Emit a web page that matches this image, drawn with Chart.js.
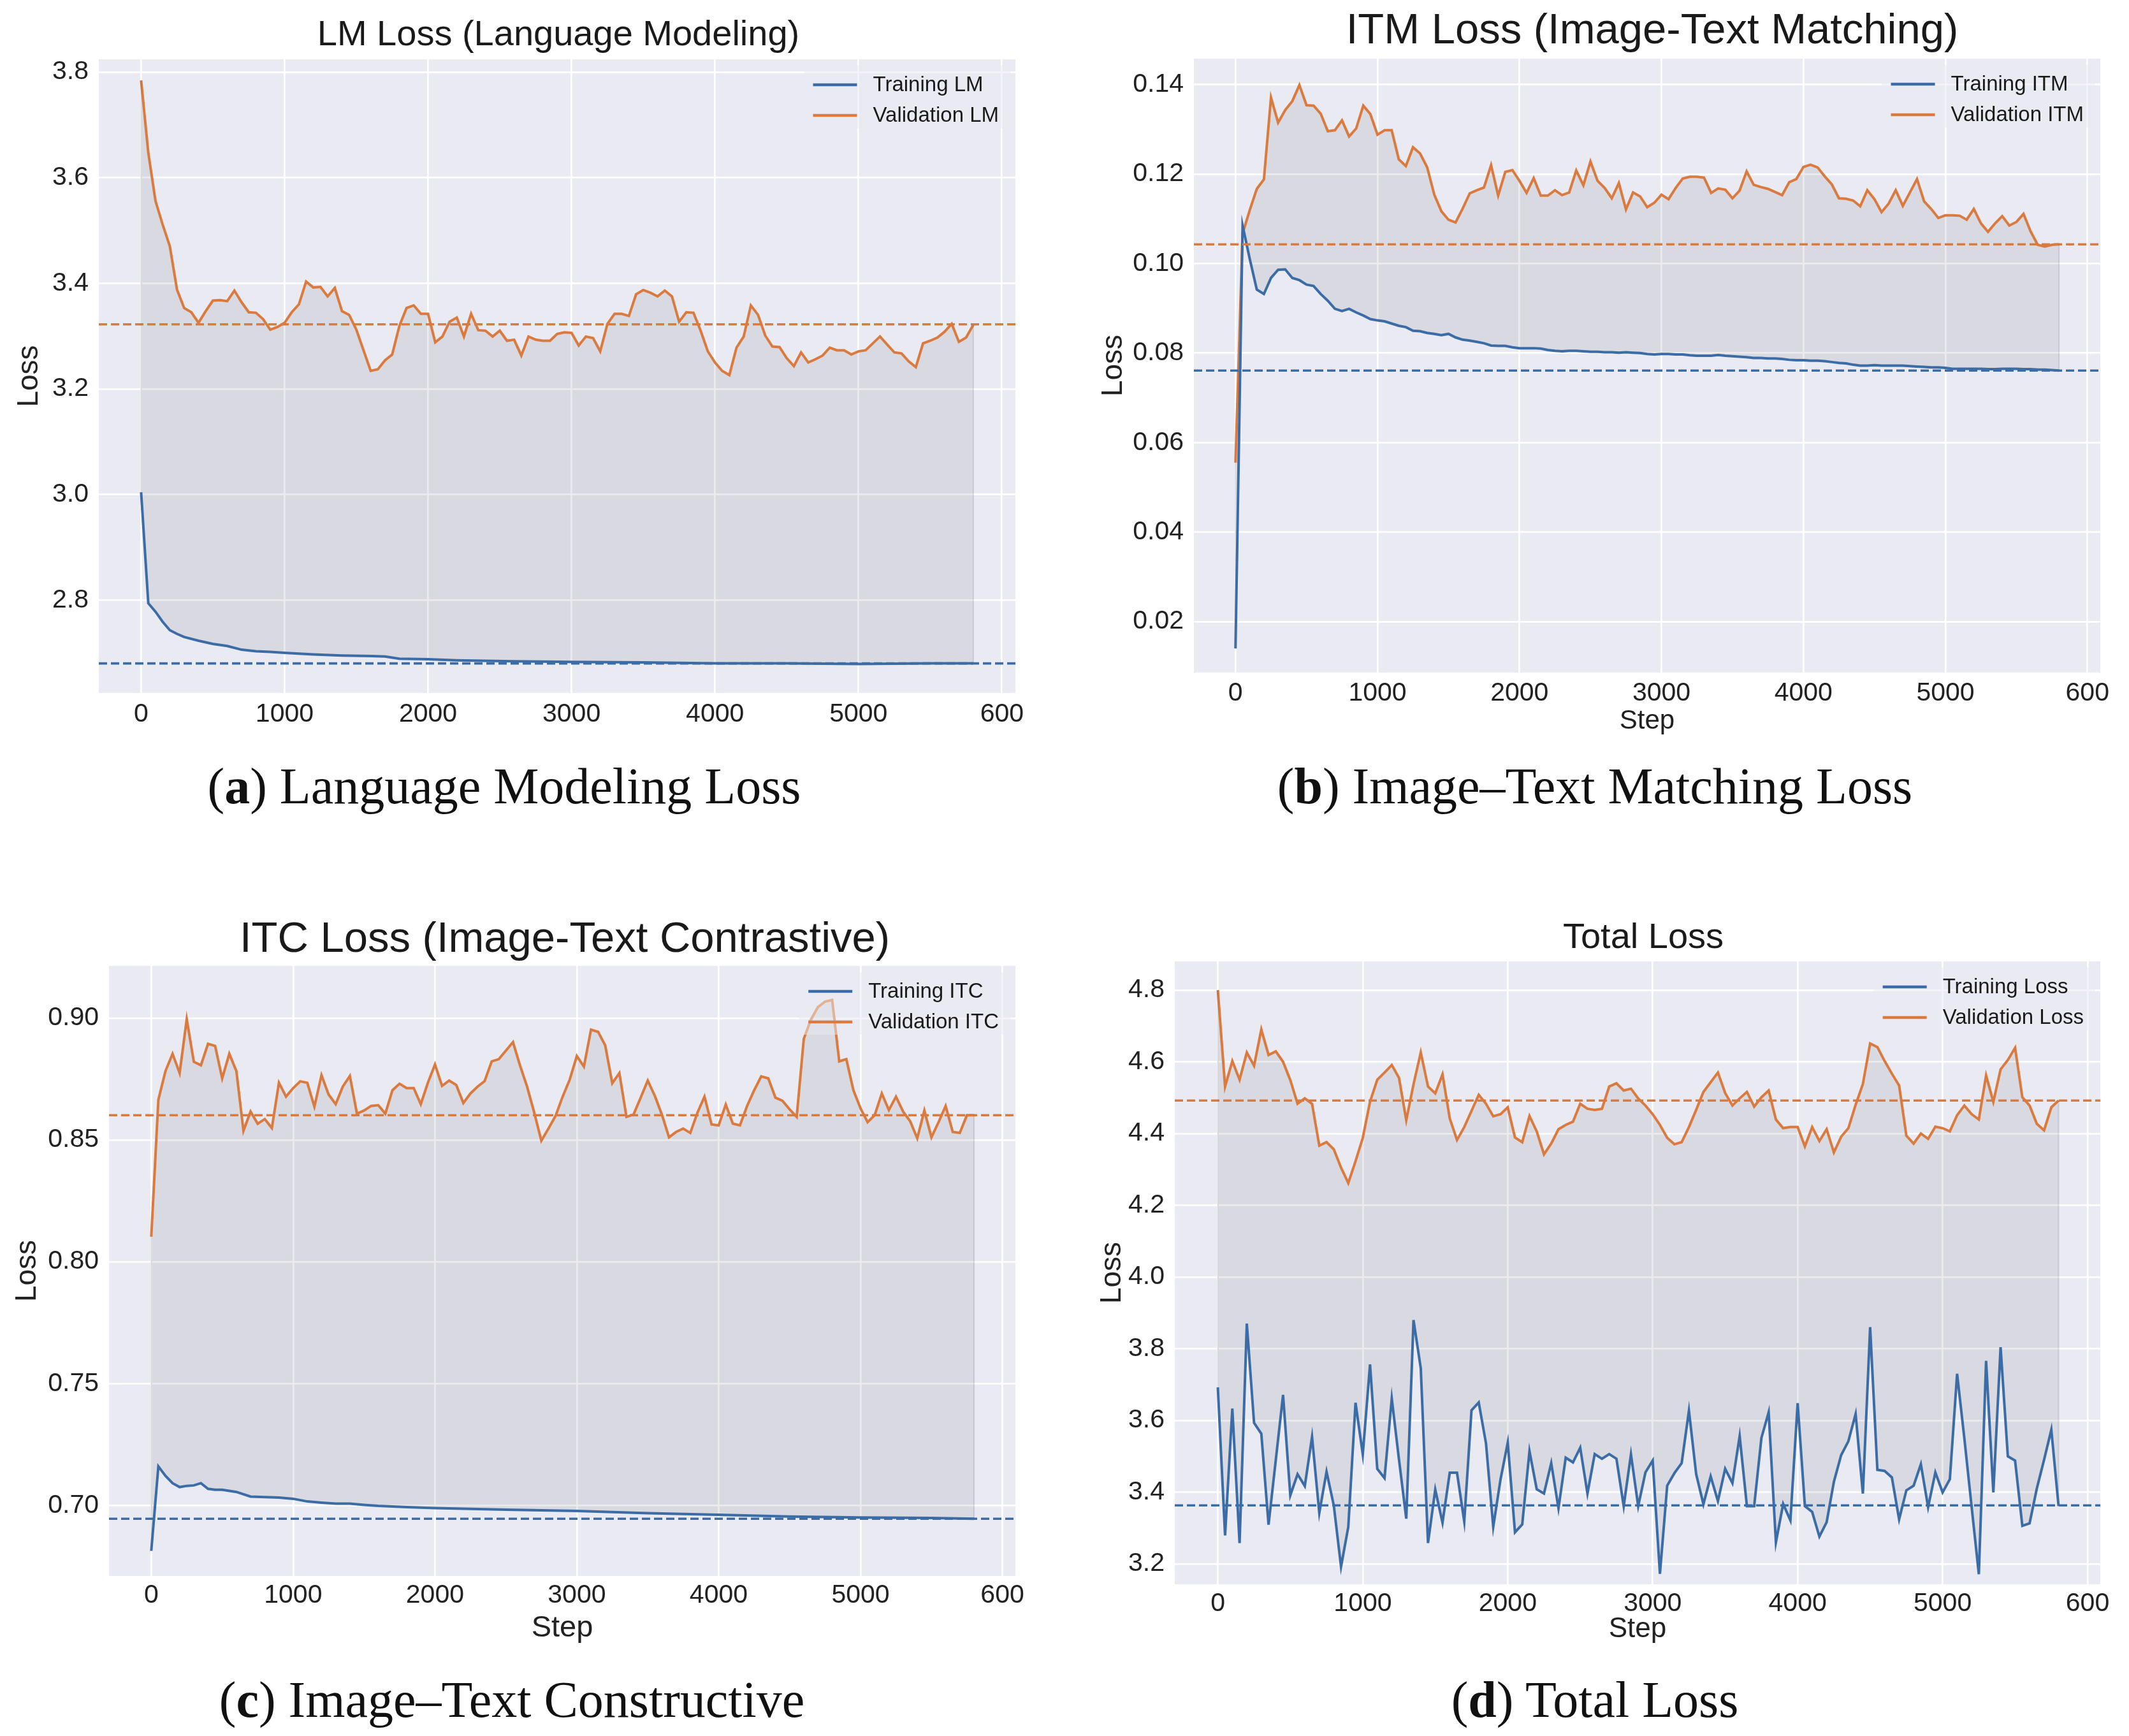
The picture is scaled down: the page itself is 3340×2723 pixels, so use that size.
<!DOCTYPE html>
<html><head><meta charset="utf-8">
<script src="https://cdn.jsdelivr.net/npm/chart.js@4.4.1/dist/chart.umd.min.js"></script>
<style>
html,body{margin:0;padding:0;background:#fff;}
#page{position:relative;width:3340px;height:2723px;overflow:hidden;background:#fff;}
canvas{position:absolute;}
.title{position:absolute;transform:translate(-50%,-50%);white-space:nowrap;font-family:"Liberation Sans",Arial,sans-serif;color:#1a1a1a;line-height:1;z-index:2;}
.cap{position:absolute;transform:translate(-50%,-50%);white-space:nowrap;font-family:"Liberation Serif","Times New Roman",serif;font-size:80px;color:#111;line-height:1;}
</style></head><body><div id="page">
<canvas id="cA" width="1653" height="1124" style="left:0px;top:43px"></canvas>
<canvas id="cB" width="1649" height="1115" style="left:1690px;top:42px"></canvas>
<canvas id="cC" width="1653" height="1117" style="left:0px;top:1465px"></canvas>
<canvas id="cD" width="1659" height="1124" style="left:1680px;top:1458px"></canvas>
<div class="title" style="left:876px;top:52px;font-size:56px">LM Loss (Language Modeling)</div>
<div class="title" style="left:2592px;top:44px;font-size:67px">ITM Loss (Image-Text Matching)</div>
<div class="title" style="left:886px;top:1469px;font-size:67px">ITC Loss (Image-Text Contrastive)</div>
<div class="title" style="left:2578px;top:1468px;font-size:56px">Total Loss</div>
<div class="cap" style="left:791px;top:1233px">(<b>a</b>) Language Modeling Loss</div>
<div class="cap" style="left:2502px;top:1233px">(<b>b</b>) Image–Text Matching Loss</div>
<div class="cap" style="left:803px;top:2666px">(<b>c</b>) Image–Text Constructive</div>
<div class="cap" style="left:2502px;top:2666px">(<b>d</b>) Total Loss</div>
</div>
<script>
// ---------- shared axis data ----------
const steps = [0,50,100,150,200,250,300,350,400,450,
500,550,600,650,700,750,800,850,900,950,
1000,1050,1100,1150,1200,1250,1300,1350,1400,1450,
1500,1550,1600,1650,1700,1750,1800,1850,1900,1950,
2000,2050,2100,2150,2200,2250,2300,2350,2400,2450,
2500,2550,2600,2650,2700,2750,2800,2850,2900,2950,
3000,3050,3100,3150,3200,3250,3300,3350,3400,3450,
3500,3550,3600,3650,3700,3750,3800,3850,3900,3950,
4000,4050,4100,4150,4200,4250,4300,4350,4400,4450,
4500,4550,4600,4650,4700,4750,4800,4850,4900,4950,
5000,5050,5100,5150,5200,5250,5300,5350,5400,5450,
5500,5550,5600,5650,5700,5750,5800];
const xTicks = [0,1000,2000,3000,4000,5000,6000];
const xTickLabels = ['0','1000','2000','3000','4000','5000','600'];

// ---------- (a) LM loss ----------
const lmTrainSteps = [0,50,100,150,200,250,300,400,500,600,700,800,900,1000,1200,1400,1600,1700,1800,2000,2200,2400,2600,3000,3500,4000,4500,5000,5500,5800];
const lmTrain = [3.004,2.794,2.778,2.759,2.743,2.736,2.730,2.723,2.717,2.713,2.706,2.703,2.702,2.700,2.697,2.695,2.694,2.693,2.689,2.688,2.686,2.685,2.684,2.683,2.682,2.680,2.680,2.679,2.680,2.680];
const lmVal = [3.784,3.647,3.556,3.511,3.470,3.388,3.353,3.345,3.325,3.347,
3.367,3.368,3.366,3.386,3.364,3.345,3.344,3.332,3.312,3.317,
3.325,3.345,3.360,3.403,3.392,3.393,3.375,3.391,3.347,3.340,
3.312,3.273,3.234,3.237,3.254,3.265,3.319,3.353,3.358,3.342,
3.342,3.288,3.299,3.327,3.335,3.299,3.342,3.311,3.310,3.299,
3.310,3.291,3.293,3.263,3.299,3.293,3.291,3.291,3.304,3.307,
3.306,3.282,3.299,3.296,3.271,3.323,3.342,3.342,3.338,3.379,
3.387,3.382,3.375,3.386,3.375,3.327,3.345,3.344,3.310,3.271,
3.250,3.234,3.226,3.278,3.299,3.358,3.340,3.301,3.280,3.279,
3.258,3.243,3.269,3.250,3.256,3.263,3.278,3.273,3.273,3.265,
3.271,3.273,3.286,3.299,3.284,3.269,3.267,3.252,3.241,3.286,
3.291,3.297,3.308,3.323,3.289,3.297,3.321];
const lmTrainRef = 2.680;
const lmValRef = 3.322;
const lmXRange = [-295, 6094];
const lmYRange = [2.624, 3.824];
const lmYTicks = [2.8,3.0,3.2,3.4,3.6,3.8];
const lmYTickLabels = ['2.8','3.0','3.2','3.4','3.6','3.8'];

// ---------- (b) ITM loss ----------
const itmTrain = [0.0140,0.1085,0.1011,0.0942,0.0932,0.0968,0.0986,0.0987,0.0968,0.0963,
0.0953,0.0950,0.0932,0.0917,0.0899,0.0894,0.0899,0.0891,0.0884,0.0876,
0.0873,0.0871,0.0866,0.0861,0.0858,0.0850,0.0849,0.0845,0.0843,0.0840,
0.0843,0.0835,0.0830,0.0828,0.0825,0.0822,0.0817,0.0816,0.0816,0.0813,
0.0811,0.0811,0.0811,0.0810,0.0807,0.0805,0.0804,0.0805,0.0805,0.0804,
0.0803,0.0803,0.0802,0.0802,0.0801,0.0802,0.0801,0.0800,0.0798,0.0797,
0.0798,0.0798,0.0797,0.0797,0.0795,0.0794,0.0794,0.0794,0.0796,0.0794,
0.0793,0.0792,0.0791,0.0789,0.0789,0.0788,0.0788,0.0787,0.0785,0.0784,
0.0784,0.0783,0.0783,0.0782,0.0780,0.0778,0.0777,0.0774,0.0772,0.0772,
0.0773,0.0772,0.0772,0.0772,0.0772,0.0771,0.0770,0.0769,0.0768,0.0768,
0.0767,0.0765,0.0765,0.0765,0.0765,0.0765,0.0764,0.0764,0.0765,0.0765,
0.0765,0.0764,0.0764,0.0763,0.0763,0.0762,0.0761];
const itmVal = [0.0555,0.1067,0.1119,0.1167,0.1188,0.1371,0.1315,0.1343,0.1363,0.1399,
0.1354,0.1353,0.1335,0.1296,0.1298,0.1320,0.1284,0.1302,0.1353,0.1334,
0.1288,0.1298,0.1298,0.1233,0.1218,0.1260,0.1246,0.1215,0.1154,0.1117,
0.1098,0.1092,0.1123,0.1157,0.1164,0.1170,0.1220,0.1152,0.1205,0.1209,
0.1185,0.1158,0.1191,0.1152,0.1152,0.1164,0.1153,0.1159,0.1208,0.1175,
0.1228,0.1185,0.1169,0.1146,0.1180,0.1121,0.1159,0.1150,0.1126,0.1136,
0.1154,0.1144,0.1169,0.1190,0.1194,0.1194,0.1192,0.1158,0.1168,0.1165,
0.1146,0.1163,0.1206,0.1176,0.1171,0.1167,0.1160,0.1153,0.1182,0.1189,
0.1216,0.1221,0.1215,0.1195,0.1177,0.1146,0.1145,0.1141,0.1128,0.1164,
0.1144,0.1115,0.1134,0.1164,0.1129,0.1159,0.1189,0.1139,0.1122,0.1102,
0.1108,0.1108,0.1107,0.1098,0.1122,0.1090,0.1071,0.1090,0.1106,0.1085,
0.1093,0.1111,0.1072,0.1042,0.1038,0.1042,0.1043];
const itmTrainRef = 0.0761;
const itmValRef = 0.1043;
const itmXRange = [-293, 6091];
const itmYRange = [0.0086, 0.1458];
const itmYTicks = [0.02,0.04,0.06,0.08,0.10,0.12,0.14];
const itmYTickLabels = ['0.02','0.04','0.06','0.08','0.10','0.12','0.14'];

// ---------- (c) ITC loss ----------
const itcTrainSteps = [0,50,100,150,200,250,300,350,400,450,500,600,700,800,900,1000,1100,1200,1300,1400,1500,1600,1800,2000,2500,3000,3500,4000,4500,5000,5500,5800];
const itcTrain = [0.6813,0.7160,0.7121,0.7091,0.7075,0.7080,0.7082,0.7091,0.7068,0.7064,0.7064,0.7055,0.7036,0.7034,0.7032,0.7027,0.7016,0.7011,0.7007,0.7007,0.7002,0.6998,0.6993,0.6989,0.6982,0.6977,0.6968,0.6961,0.6954,0.6950,0.6948,0.6945];
const itcVal = [0.8103,0.8665,0.8783,0.8854,0.8775,0.8996,0.8821,0.8807,0.8895,0.8886,
0.8753,0.8854,0.8783,0.8538,0.8617,0.8567,0.8586,0.8549,0.8735,0.8678,
0.8713,0.8741,0.8735,0.8637,0.8766,0.8687,0.8647,0.8719,0.8763,0.8608,
0.8621,0.8640,0.8643,0.8608,0.8704,0.8731,0.8713,0.8713,0.8647,0.8735,
0.8810,0.8722,0.8744,0.8726,0.8652,0.8691,0.8719,0.8742,0.8823,0.8832,
0.8867,0.8902,0.8805,0.8718,0.8612,0.8497,0.8547,0.8599,0.8678,0.8748,
0.8845,0.8801,0.8953,0.8944,0.8889,0.8733,0.8775,0.8595,0.8605,0.8674,
0.8744,0.8681,0.8604,0.8511,0.8533,0.8547,0.8529,0.8612,0.8678,0.8564,
0.8560,0.8646,0.8567,0.8560,0.8639,0.8704,0.8761,0.8753,0.8674,0.8661,
0.8626,0.8595,0.8915,0.8994,0.9046,0.9068,0.9075,0.8823,0.8832,0.8704,
0.8630,0.8573,0.8602,0.8691,0.8623,0.8678,0.8617,0.8577,0.8507,0.8621,
0.8511,0.8573,0.8640,0.8533,0.8529,0.8602,0.8602];
const itcTrainRef = 0.6945;
const itcValRef = 0.8602;
const itcXRange = [-298, 6092];
const itcYRange = [0.671, 0.9215];
const itcYTicks = [0.70,0.75,0.80,0.85,0.90];
const itcYTickLabels = ['0.70','0.75','0.80','0.85','0.90'];

// ---------- (d) Total loss ----------
const totTrain = [3.692,3.279,3.633,3.258,3.870,3.593,3.563,3.309,3.490,3.671,
3.391,3.450,3.417,3.554,3.342,3.457,3.363,3.192,3.303,3.649,
3.505,3.756,3.465,3.439,3.661,3.490,3.326,3.880,3.746,3.258,
3.407,3.315,3.454,3.454,3.318,3.628,3.650,3.536,3.303,3.435,
3.538,3.288,3.310,3.514,3.408,3.396,3.481,3.355,3.496,3.483,
3.524,3.396,3.506,3.493,3.506,3.493,3.361,3.505,3.361,3.455,
3.488,3.172,3.418,3.453,3.481,3.627,3.450,3.366,3.444,3.375,
3.465,3.425,3.556,3.361,3.361,3.551,3.623,3.260,3.367,3.321,
3.648,3.361,3.345,3.276,3.316,3.429,3.503,3.542,3.618,3.396,
3.860,3.462,3.459,3.441,3.324,3.405,3.418,3.478,3.358,3.455,
3.399,3.436,3.730,3.550,3.360,3.171,3.766,3.399,3.804,3.500,
3.488,3.306,3.313,3.410,3.490,3.574,3.361];
const totVal = [4.800,4.531,4.602,4.550,4.626,4.589,4.690,4.619,4.629,4.600,
4.549,4.483,4.498,4.483,4.366,4.376,4.356,4.305,4.262,4.323,
4.388,4.489,4.550,4.570,4.591,4.555,4.437,4.537,4.626,4.531,
4.512,4.565,4.442,4.382,4.418,4.463,4.508,4.483,4.448,4.454,
4.473,4.389,4.376,4.449,4.406,4.342,4.372,4.412,4.424,4.433,
4.483,4.469,4.466,4.469,4.531,4.540,4.520,4.525,4.498,4.478,
4.454,4.424,4.388,4.370,4.376,4.418,4.466,4.516,4.543,4.570,
4.513,4.478,4.498,4.516,4.475,4.501,4.520,4.439,4.415,4.418,
4.418,4.364,4.418,4.379,4.412,4.347,4.391,4.415,4.480,4.538,
4.651,4.641,4.602,4.567,4.534,4.394,4.372,4.400,4.385,4.419,
4.415,4.406,4.451,4.478,4.454,4.439,4.562,4.488,4.579,4.605,
4.639,4.501,4.478,4.427,4.409,4.473,4.492];
const totTrainRef = 3.363;
const totValRef = 4.492;
const totXRange = [-297, 6088];
const totYRange = [3.143, 4.880];
const totYTicks = [3.2,3.4,3.6,3.8,4.0,4.2,4.4,4.6,4.8];
const totYTickLabels = ['3.2','3.4','3.6','3.8','4.0','4.2','4.4','4.6','4.8'];

// ---------- styling ----------
const BLUE = '#3B6CA6';
const ORANGE = '#DA7A3E';
const FILL = 'rgba(120,120,132,0.15)';
const PLOT_BG = '#EAEAF2';
const SANS = '"Liberation Sans", Arial, Helvetica, sans-serif';
const TXT = '#222222';
const LW = 4.0;
Chart.defaults.font.family = SANS;
Chart.defaults.color = TXT;

const bgPlugin = {
  id: 'plotBg',
  beforeDraw(chart) {
    const {ctx, chartArea: a} = chart;
    ctx.save();
    ctx.fillStyle = PLOT_BG;
    ctx.fillRect(a.left, a.top, a.right - a.left, a.bottom - a.top);
    ctx.restore();
  }
};

const edgePlugin = {
  id: 'fillEdges',
  afterDatasetsDraw(chart) {
    const {ctx} = chart;
    const xs = chart.scales.x, ys = chart.scales.y;
    const t = chart.data.datasets[0].data, v = chart.data.datasets[1].data;
    ctx.save();
    ctx.strokeStyle = 'rgba(110,110,125,0.22)';
    ctx.lineWidth = 2;
    [[t[0], v[0]], [t[t.length - 1], v[v.length - 1]]].forEach(([p, q]) => {
      ctx.beginPath();
      ctx.moveTo(xs.getPixelForValue(q.x), ys.getPixelForValue(p.y));
      ctx.lineTo(xs.getPixelForValue(q.x), ys.getPixelForValue(q.y));
      ctx.stroke();
    });
    ctx.restore();
  }
};

const legendPlugin = {
  id: 'cornerLegend',
  afterDatasetsDraw(chart, args, opts) {
    const {ctx, chartArea: a} = chart;
    const items = opts.items;
    ctx.save();
    ctx.font = opts.size + 'px ' + SANS;
    const maxW = Math.max(...items.map(it => ctx.measureText(it.label).width));
    const textX = a.right - 26 - maxW;
    const lx2 = textX - 25, lx1 = lx2 - 69;
    const rows = items.map((it, i) => a.top + 40 + i * 48);
    ctx.fillStyle = 'rgba(234,234,242,0.5)';
    const bx = lx1 - 14, by = rows[0] - 30;
    ctx.fillRect(bx, by, a.right - 8 - bx, rows[rows.length - 1] + 20 - by);
    items.forEach((it, i) => {
      ctx.strokeStyle = it.color;
      ctx.lineWidth = 4.5;
      ctx.beginPath();
      ctx.moveTo(lx1, rows[i]);
      ctx.lineTo(lx2, rows[i]);
      ctx.stroke();
      ctx.fillStyle = '#1a1a1a';
      ctx.textAlign = 'left';
      ctx.textBaseline = 'middle';
      ctx.fillText(it.label, textX, rows[i] + 1);
    });
    ctx.restore();
  }
};

function pts(xs, ys) { return xs.map((x, i) => ({x: x, y: ys[i]})); }

function makeChart(id, p) {
  return new Chart(document.getElementById(id), {
    type: 'line',
    data: {
      datasets: [
        {label: p.labels[0], data: pts(p.trainSteps, p.train), borderColor: BLUE, borderWidth: LW,
         pointRadius: 0, tension: 0, fill: false, order: 0},
        {label: p.labels[1], data: pts(p.valSteps, p.val), borderColor: ORANGE, borderWidth: LW,
         pointRadius: 0, tension: 0, fill: '-1', backgroundColor: FILL, order: 1},
        {label: 'trainRef', data: [{x: p.xRange[0], y: p.trainRef}, {x: p.xRange[1], y: p.trainRef}],
         borderColor: BLUE, borderWidth: 3.6, borderDash: [13, 6], pointRadius: 0, fill: false, order: -1},
        {label: 'valRef', data: [{x: p.xRange[0], y: p.valRef}, {x: p.xRange[1], y: p.valRef}],
         borderColor: ORANGE, borderWidth: 3.6, borderDash: [13, 6], pointRadius: 0, fill: false, order: -1}
      ]
    },
    options: {
      responsive: false,
      animation: false,
      devicePixelRatio: 1,
      layout: {padding: {top: 50, right: p.padRight, left: 0, bottom: 0}},
      plugins: {
        legend: {display: false},
        title: {display: false},
        tooltip: {enabled: false},
        cornerLegend: {size: 33, items: [{label: p.labels[0], color: BLUE}, {label: p.labels[1], color: ORANGE}]}
      },
      scales: {
        x: {
          type: 'linear', min: p.xRange[0], max: p.xRange[1],
          border: {display: false},
          grid: {color: '#ffffff', lineWidth: 2.7, drawTicks: false},
          afterBuildTicks: s => { s.ticks = xTicks.map(v => ({value: v})); },
          afterFit: s => { s.height = p.xAxisH; },
          ticks: {padding: p.xTickPad, autoSkip: false, maxRotation: 0, color: TXT,
                  font: {size: 41}, callback: (v, i) => xTickLabels[i]},
          title: {display: !!p.xTitleSize, text: 'Step', color: TXT,
                  font: {size: p.xTitleSize || 40}, padding: {top: 0, bottom: 0}}
        },
        y: {
          type: 'linear', min: p.yRange[0], max: p.yRange[1],
          border: {display: false},
          grid: {color: '#ffffff', lineWidth: 2.7, drawTicks: false},
          afterBuildTicks: s => { s.ticks = p.yTicks.map(v => ({value: v})); },
          afterFit: s => { s.width = p.yAxisW; },
          ticks: {padding: 16, autoSkip: false, color: TXT, font: {size: 41},
                  callback: (v, i) => p.yTickLabels[i]},
          title: {display: true, text: 'Loss', color: TXT, font: {size: 46},
                  padding: {top: p.yTitlePad, bottom: 0}}
        }
      }
    },
    plugins: [bgPlugin, edgePlugin, legendPlugin]
  });
}

makeChart('cA', {labels: ['Training LM', 'Validation LM'], trainSteps: lmTrainSteps, train: lmTrain,
  valSteps: steps, val: lmVal, trainRef: lmTrainRef, valRef: lmValRef, xRange: lmXRange, yRange: lmYRange,
  yTicks: lmYTicks, yTickLabels: lmYTickLabels, padRight: 60, xAxisH: 80, xTickPad: 9, xTitleSize: 0,
  yAxisW: 155, yTitlePad: 18.4});
makeChart('cB', {labels: ['Training ITM', 'Validation ITM'], trainSteps: steps, train: itmTrain,
  valSteps: steps, val: itmVal, trainRef: itmTrainRef, valRef: itmValRef, xRange: itmXRange, yRange: itmYRange,
  yTicks: itmYTicks, yTickLabels: itmYTickLabels, padRight: 44, xAxisH: 102, xTickPad: 8, xTitleSize: 42,
  yAxisW: 183, yTitlePad: 29.4});
makeChart('cC', {labels: ['Training ITC', 'Validation ITC'], trainSteps: itcTrainSteps, train: itcTrain,
  valSteps: steps, val: itcVal, trainRef: itcTrainRef, valRef: itcValRef, xRange: itcXRange, yRange: itcYRange,
  yTicks: itcYTicks, yTickLabels: itcYTickLabels, padRight: 60, xAxisH: 110, xTickPad: 6, xTitleSize: 47,
  yAxisW: 171, yTitlePad: 15.4});
makeChart('cD', {labels: ['Training Loss', 'Validation Loss'], trainSteps: steps, train: totTrain,
  valSteps: steps, val: totVal, trainRef: totTrainRef, valRef: totValRef, xRange: totXRange, yRange: totYRange,
  yTicks: totYTicks, yTickLabels: totYTickLabels, padRight: 44, xAxisH: 97, xTickPad: 6, xTitleSize: 44,
  yAxisW: 163, yTitlePad: 37.4});
</script>
</body></html>
